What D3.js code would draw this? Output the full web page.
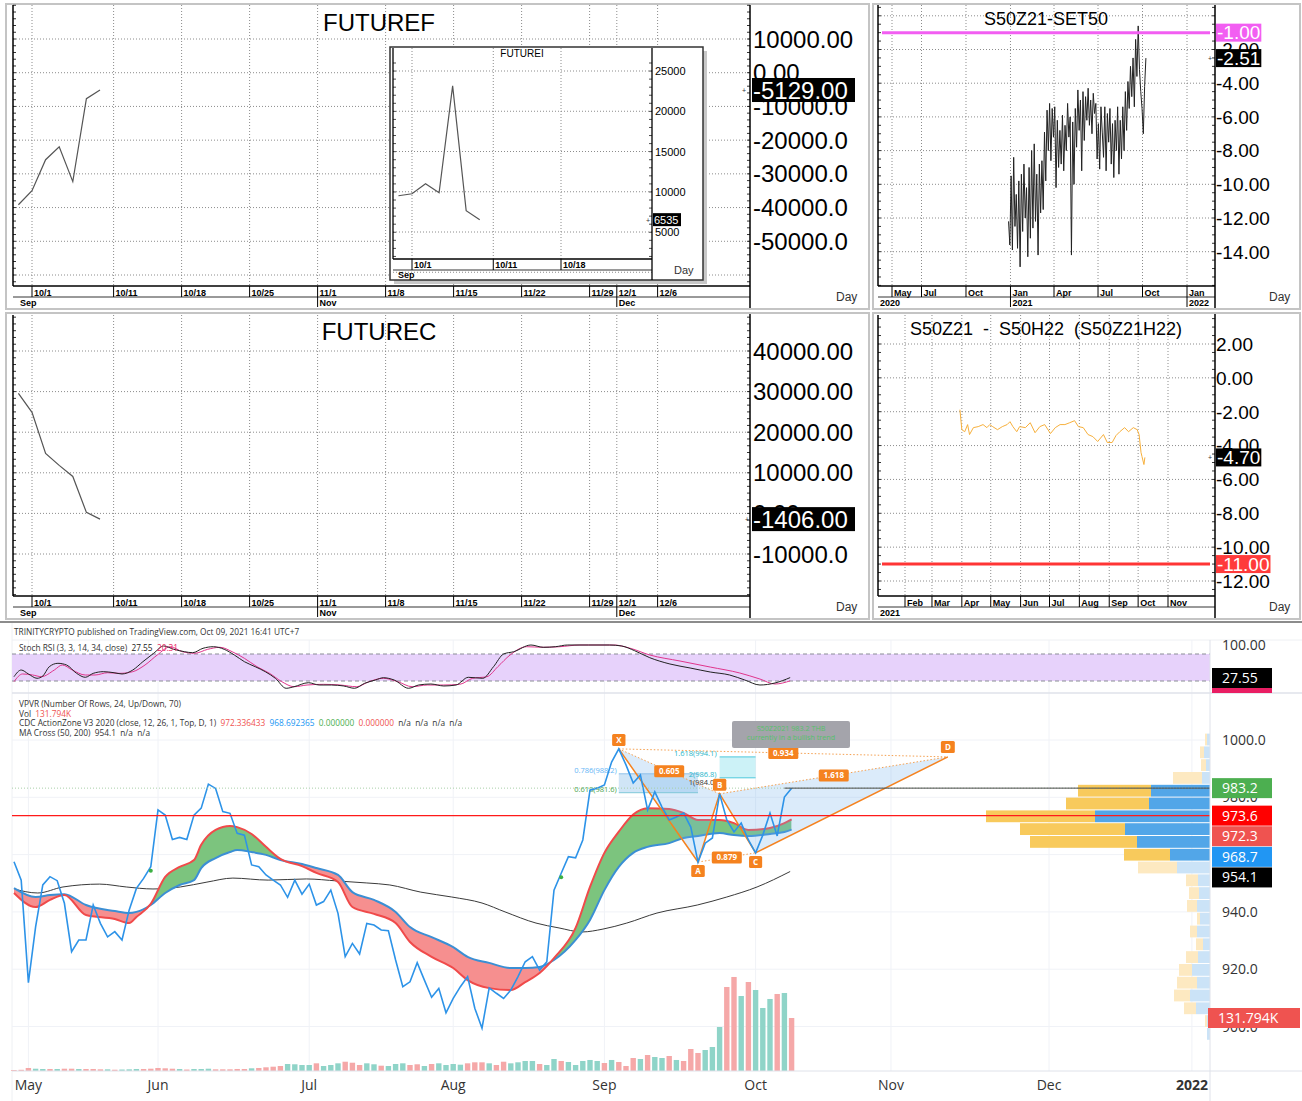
<!DOCTYPE html>
<html><head><meta charset="utf-8">
<script src="https://cdn.jsdelivr.net/npm/d3@7"></script>
<style>body{margin:0;background:#fff;}svg{display:block;}</style>
</head><body>
<svg id="chart" width="1302" height="1101" xmlns="http://www.w3.org/2000/svg"></svg>
<script>
// ================= DATA =================
// FUTUREF / FUTUREC / FUTUREI (trading-day index 0 = 9/30)
const futTickIdx = [1,7,12,17,22,27,32,37,42,44,47];
const futTickLabels = ["10/1","10/11","10/18","10/25","11/1","11/8","11/15","11/22","11/29","12/1","12/6"];
const futMonthIdx = [22,44];
const futMonthLabels = ["Nov","Dec"];
const futureF = [-39170,-35000,-25800,-22000,-32300,-7700,-5129];
const futureC = [29560,24880,14780,11820,9110,250,-1406];
const futureI = [9500,9750,11000,9880,23150,7640,6535];
const futFGrid = [10000,0,-10000,-20000,-30000,-40000,-50000,-60000];
const futFLabelVals = [10000,0,-10000,-20000,-30000,-40000,-50000];
const futFLabels = ["10000.00","0.00","-10000.0","-20000.0","-30000.0","-40000.0","-50000.0"];
const futCGrid = [40000,30000,20000,10000,0,-10000];
const futCLabels = ["40000.00","30000.00","20000.00","10000.00","0.00","-10000.0"];
const futIGrid = [25000,20000,15000,10000,5000];
const futITickIdx = [1,7,12];
const futITickLabels = ["10/1","10/11","10/18"];

// S50Z21-SET50 basis (daily swings, Dec 28 2020 .. Oct 8 2021)
const basisStart = "2020-12-28", basisEnd = "2021-10-08";
const basis = [-12.2,-13.6,-9.5,-13.9,-8.4,-12.5,-10.6,-13.8,-9.8,-14.9,-9.4,-12.8,-8.8,-12.0,
 -10.2,-14.3,-9.0,-13.2,-8.0,-12.6,-7.6,-12.2,-9.4,-14.2,-8.8,-11.7,
 -8.6,-11.5,-6.9,-9.8,-5.6,-8.0,-5.2,-8.6,-5.5,-7.2,-5.4,-10.2,-6.2,-9.0,
 -6.8,-8.8,-5.9,-9.2,-6.5,-8.0,-5.2,-7.2,-6.0,-14.2,-6.3,-10.0,
 -5.5,-7.8,-4.4,-6.8,-5.0,-9.2,-4.5,-7.4,-4.8,-6.2,-4.3,-6.5,-5.0,-7.0,-4.6,-5.8,-5.2,-8.5,-6.4,-9.1,-5.4,
 -6.9,-8.4,-5.4,-9.2,-5.8,-7.5,-5.5,-8.8,-6.4,-9.6,-6.2,-8.0,-5.4,-9.4,-6.2,-8.5,-5.4,-8.0,
 -4.5,-6.8,-3.9,-5.5,-3.0,-4.8,-2.5,-5.4,-1.4,-3.6,-0.6,-3.2,
 -4.5,-5.5,-7.0,-4.2,-2.51];
const basisGrid = [0,-2,-4,-6,-8,-10,-12,-14];
const basisLabels = ["-2.00","-4.00","-6.00","-8.00","-10.00","-12.00","-14.00"];
const basisLabelVals = [-2,-4,-6,-8,-10,-12,-14];
const basisMonths = ["2020-05-01","2020-07-01","2020-10-01","2021-01-01","2021-04-01","2021-07-01","2021-10-01","2022-01-01"];
const basisMonthLabels = ["May","Jul","Oct","Jan","Apr","Jul","Oct","Jan"];

// S50Z21 - S50H22 spread (day of 2021, value)
const spreadDay = [88,90,93,96,98,102,107,112,116,119,122,127,132,137,140,143,147,150,156,161,166,171,176,182,187,192,197,202,207,211,216,221,226,231,237,241,246,250,254,259,263,268,272,274,276,277,279,280];
const spreadVal = [-1.88,-3.06,-3.18,-2.76,-3.35,-2.94,-2.88,-2.76,-2.94,-2.76,-2.88,-3.06,-2.88,-2.76,-2.59,-2.88,-3.18,-2.88,-2.94,-2.65,-3.24,-2.88,-2.76,-3.29,-2.94,-2.76,-2.76,-2.65,-2.53,-2.88,-2.94,-3.35,-3.47,-3.76,-3.35,-3.82,-3.82,-3.41,-3.18,-2.94,-3.18,-2.94,-3.06,-3.35,-4.41,-4.65,-5.12,-4.70];
const spreadGrid = [2,0,-2,-4,-6,-8,-10,-12];
const spreadLabels = ["2.00","0.00","-2.00","-4.00","-6.00","-8.00","-10.00","-12.00"];
const spreadMonths = ["2021-02-01","2021-03-01","2021-04-01","2021-05-01","2021-06-01","2021-07-01","2021-08-01","2021-09-01","2021-10-01","2021-11-01"];
const spreadMonthLabels = ["Feb","Mar","Apr","May","Jun","Jul","Aug","Sep","Oct","Nov"];

// TradingView chart: daily closes (bar index 0 = Apr 29 2021)
const tvClose = [957.5,951.1,915.3,934.8,949.4,952.3,950.9,943.0,926.1,930.2,
 930.2,942.4,936.0,931.3,933.1,930.2,940.7,948.2,951.7,955.8,
 975.6,973.8,965.3,966.0,965.3,973.8,976.2,984.6,983.1,975.0,
 974.4,967.4,966.8,956.4,955.8,952.9,951.1,949.4,945.1,951.1,
 946.2,949.7,942.4,943.6,947.6,939.5,924.4,929.0,925.3,936.0,
 935.4,933.7,933.4,923.2,913.9,915.6,922.3,916.2,910.2,913.3,
 904.8,909.8,913.9,917.4,906.4,899.4,913.5,911.6,909.8,912.7,
 917.4,922.6,924.4,919.7,922.6,947.6,953.5,959.3,958.9,965.1,
 982.5,983.2,984.3,992.3,996.9,991.3,985.0,987.8,975.6,981.9,
 976.6,972.1,973.1,974.5,969.6,957.4,964.0,965.8,981.2,972.1,
 967.9,971.0,965.1,960.6,966.8,974.5,966.5,980.1,983.2];
const tvVolume = [2.5,3.0,7.5,5.7,5.0,5.0,5.0,5.7,5.7,5.0,
 5.0,5.0,4.2,4.2,3.2,3.7,4.2,5.0,5.0,5.7,
 7.5,6.7,5.7,5.0,3.7,5.0,5.0,5.7,4.2,4.2,
 4.2,5.0,5.0,6.7,7.5,9.2,10.7,12.4,17.4,16.7,
 14.9,14.9,19.1,12.4,14.9,19.1,23.1,20.6,14.9,19.1,
 16.7,13.2,12.4,17.4,19.1,14.9,16.7,12.4,17.4,19.1,
 14.9,17.4,15.7,19.1,21.6,21.6,19.1,14.9,23.1,19.1,
 21.6,24.9,24.9,17.4,14.9,29.8,24.9,22.4,14.9,24.9,
 27.4,24.9,19.9,27.4,22.4,12.4,32.3,29.8,39.8,34.8,
 32.3,37.3,27.4,24.9,54.7,44.8,52.2,59.7,109.4,208.9,
 233.8,186.5,221.3,201.4,156.7,179.1,191.5,194.0,131.794];
const tvVolDir = ("ddduududdu"+"ddduduuudd"+"ddduduuudd"+"dddudddduu"+"uuduuudddu"+
 "uduuuddudu"+"uuuddduddu"+"uuuduuduuu"+"uududddudu"+"ududdduuud"+"duduuudud").split("");
// CDC ActionZone EMAs (bar index, fast, slow)
const bandIdx = [0,3,5,7,10,14,16,17,19,21,23,25,26,28,30,31,33,35,37,40,42,45,47,50,53,55,58,61,63,66,69,71,73,75,78,80,82,84,86,88,91,93,95,98,100,102,105,107,108];
const emaFast = [946.6,941.7,944.2,945.9,938.9,937.5,936.1,938.2,942.8,952.2,955.7,958.1,963.4,968.6,970.0,969.6,967.2,962.7,958.5,956.0,953.6,950.4,941.7,939.3,936.1,929.5,924.3,920.4,916.2,913.4,912.7,915.5,918.7,923.9,934.4,948.7,960.6,968.0,974.0,976.2,975.9,974.5,972.1,972.1,971.0,968.6,969.3,971.0,972.3];
const emaSlow = [948.3,945.2,945.9,946.2,942.4,940.3,939.6,940.0,942.4,946.6,949.4,951.1,955.3,958.8,960.9,961.6,960.9,959.9,958.1,956.7,955.3,952.9,946.9,944.2,940.0,934.7,931.2,927.7,924.3,922.2,920.4,920.4,920.8,923.2,930.2,937.2,947.6,955.7,960.6,962.7,964.0,965.8,966.5,967.5,966.8,966.5,967.2,967.9,968.7];
// MA Cross line
const maIdx = [0,3.3,6.8,11.9,15.6,19.3,23.1,26.8,30.4,35.3,40.6,44.9,49,52.2,56.5,60.8,65,68.2,72.5,75.7,78.9,81.8,85.1,89.3,94.9,99,103.2,107.8];
const maVal = [948.0,946.6,948.7,949.7,948.7,948.0,948.7,950.4,951.8,951.1,951.5,950.8,950.1,949.4,946.9,945.2,943.1,940.0,936.1,934.4,933.0,934.0,936.1,939.6,942.4,945.2,948.7,954.1];
// Stoch RSI
const stochKIdx = [0,1,2,3.2,4,4.9,6.1,7.3,8.7,9.9,11,12.4,13.9,15,16.5,17.9,19.4,20.8,22.2,23.7,24.8,26.25,27.7,29.2,30.6,32,33.5,34.9,36.3,37.8,38.9,40.9,42.4,44.1,45.8,47.3,48.7,50.2,51.3,52.8,54.8,56.2,57.9,59.7,61.4,63.1,65.1,66.6,68,69.4,71.8,73.5,75.2,76.9,79.8,82.7,84.4,86.2,88.3,91.1,93.9,96.7,99.4,101.5,103.6,105.7,107.8];
const stochK = [29.6,44.4,35.6,26,31,51.8,59.3,55.6,37,28.2,37,40.7,38.4,35.6,44.4,62.9,81.6,97.8,90.4,85.1,82.9,92.7,96.2,90.4,77.8,62.9,51.8,40.7,26,3.8,7.3,16.2,11.1,11.1,8.9,3.8,14.9,22.2,27.3,22.2,3.8,11.1,13.3,8.9,11.1,28.2,26,51.8,80,85.1,100,94.9,96.2,100,100,100,97.8,87.3,71.8,57.8,48.9,40,33.3,22.2,11.1,15.6,27.55];
const stochDIdx = [0,1.2,2.6,3.8,5.6,6.7,8.1,9.9,11.25,13,14.7,16.5,18.2,19.9,21.7,23.4,25.1,26.9,28.6,30.3,32,33.75,35.5,37.2,38.9,40.7,43,45.3,47.6,49.3,51.3,53.3,55.3,57.4,59.7,61.9,63.7,65.7,67.2,68.9,71.2,73.5,75.8,78.6,83.3,85.6,88.3,92.5,96.7,100.8,103.6,105.7,107.8];
const stochD = [18.5,35.6,33.3,29.6,44.4,55.6,44.4,33.3,33.3,38.4,37,40.7,55.6,77.8,96.2,85.1,81.6,90.4,94.9,85.1,70.4,51.8,37,18.5,7.3,11.1,12.6,11.1,7.3,18.5,26,18.5,7.3,11.1,11.1,12.6,26,29.6,51.8,77.8,96.2,94.9,96.2,100,100,92.7,77.8,64.4,51,37.8,24.4,13.3,20.31];
// VPVR rows (top row first), up/down volume
const vpTop = 1002.4, vpStep = 4.467;
const vpUp =   [3,6,4,8,59,61,115,85,73,40,33,12,11,13,10,13,7,12,18,13,20,14,3,3];
const vpDown = [2,4,5,29,73,83,109,105,107,46,39,12,10,10,3,7,7,12,13,20,16,12,2,0];
const vpValueArea = [4,9];
// Harmonic pattern
const harmLabels = ["X","A","B","C","D"];
const harmIdx = [84,95,98,103,129.7];
const harmPrice = [996.9,957.4,981.2,960.6,994.1];
const harmRatios = ["0.605","0.879","1.618","0.934"];
// axis
const tvGridPrices = [1000,980,960,940,920,900];
const tvPriceLabels = ["1000.0","980.0","960.0","940.0","920.0","900.0"];
const tvMonthIdx = [2,20,41,61,82,103,121.8,143.75,163.6];
const tvMonthLabels = ["May","Jun","Jul","Aug","Sep","Oct","Nov","Dec","2022"];
const tvValueBoxes = [983.2,973.6,972.3,968.7,954.1];
const tvValueBoxColors = ["#4caf50","#ff0000","#ef5350","#2196f3","#000000"];
const signalIdx = [19,76];

// ================= DRAWING =================
const svg = d3.select("#chart");
const SF = "'Liberation Sans', Arial, Helvetica, sans-serif";
const TVF = "'Open Sans', 'Noto Sans', sans-serif";
const INF = 8.3;

function line(g,x1,y1,x2,y2,stroke,w,dash){
  const l=g.append("line").attr("x1",x1).attr("y1",y1).attr("x2",x2).attr("y2",y2)
   .attr("stroke",stroke).attr("stroke-width",w||1);
  if(dash) l.attr("stroke-dasharray",dash);
  return l;
}
function text(g,x,y,s,fs,o){
  o=o||{};
  const t=g.append("text").attr("x",x).attr("y",y).attr("font-family",o.ff||SF)
   .attr("font-size",fs).attr("fill",o.fill||"#000").text(s);
  if(o.anchor) t.attr("text-anchor",o.anchor);
  if(o.fw) t.attr("font-weight",o.fw);
  if(o.pre) t.style("white-space","pre");
  return t;
}
function valueBox(g,x,yc,w,h,bg,s,fs,ff,pad){
  pad = pad||1;
  const r=g.append("rect").attr("x",x).attr("y",yc-h/2).attr("height",h).attr("fill",bg);
  const t=text(g,x+pad,yc+fs*0.36,s,fs,{fill:"#fff",ff:ff});
  const tw=t.node().getComputedTextLength();
  r.attr("width",Math.max(w,tw+pad*2));
}

function drawWin(c){
  const g=svg.append("g");
  g.append("rect").attr("x",c.fx).attr("y",c.fy).attr("width",c.fw).attr("height",c.fh)
   .attr("fill","#fff").attr("stroke","#c4c4c4").attr("stroke-width",2);
  c.grid.forEach(v=>{ if(c.y(v)>c.py0 && c.y(v)<c.py1) line(g,c.px0,c.y(v),c.px1,c.y(v),"#8c8c8c",1,"1,2"); });
  c.xt.forEach(x=>line(g,x,c.py0,x,c.py1,"#8c8c8c",1,"1,2"));
  line(g,c.px0,c.py0,c.px0,c.py1,"#000",1.5);
  line(g,c.px1,c.fy+1,c.px1,c.fy+c.fh-1,"#000",1.5);
  line(g,c.px0,c.py1,c.px1,c.py1,"#000",1.5);
  line(g,c.px0,c.py1+11,c.px1,c.py1+11,"#000",0.8);
  const major=Math.abs(c.y(c.grid[0])-c.y(c.grid[1])), step=major/c.minor;
  for(let yy=c.y(c.grid[0]); yy<c.py1; yy+=step){ line(g,c.px0,yy,c.px0+3,yy,"#000",0.8); line(g,c.px1-3,yy,c.px1,yy,"#000",0.8);}
  for(let yy=c.y(c.grid[0])-step; yy>c.py0; yy-=step){ line(g,c.px0,yy,c.px0+3,yy,"#000",0.8); line(g,c.px1-3,yy,c.px1,yy,"#000",0.8);}
  c.xt.forEach((x,k)=>{ line(g,x,c.py1,x,c.py1+11,"#000",1); text(g,x+2,c.py1+9.5,c.xl[k],c.dfs||9,{fw:"bold"}); });
  c.mt.forEach(m=>{ if(m.tick) line(g,m.x,c.py1+11,m.x,c.py1+21,"#000",1); text(g,m.x+2,c.py1+20,m.l,c.dfs||9,{fw:"bold"}); });
  c.lv.forEach((v,k)=>text(g,c.lx,c.y(v)+c.lfs*0.36,c.ll[k],c.lfs));
  text(g,c.tx,c.ty,c.title,c.tfs,{anchor:"middle",pre:true});
  if(c.path) g.append("path").attr("d",c.path).attr("fill","none").attr("stroke",c.stroke||"#444").attr("stroke-width",c.sw||1.2);
  text(g,c.dayX,c.dayY,"Day",12,{fill:"#333"});
  return g;
}

// ---------- TOP LEFT: FUTUREF ----------
const futX = d3.scaleLinear().domain([1,47]).range([32,657.6]);
const fY = d3.scaleLinear().domain([10000,-60000]).range([39,275]);
const gF = drawWin({fx:6,fy:4,fw:863,fh:305,px0:13,px1:750,py0:5,py1:286,y:fY,grid:futFGrid,minor:5,
  xt:futTickIdx.map(i=>futX(i)),xl:futTickLabels,
  mt:[{x:18,l:"Sep",tick:false}].concat(futMonthIdx.map((i,k)=>({x:futX(i),l:futMonthLabels[k],tick:true}))),
  lv:futFLabelVals,ll:futFLabels,lx:753,lfs:24,
  title:"FUTUREF",tx:379,ty:31,tfs:24,
  path:d3.line().x((d,i)=>futX(i)).y(d=>fY(d))(futureF),stroke:"#555",sw:1.2,
  dayX:836,dayY:301});
valueBox(gF,752,fY(futureF[futureF.length-1]),103,24,"#000","-5129.00",24,SF,1);
text(gF,742,fY(-5129)+3,"+",7,{fill:"#333"});

// inset FUTUREI
const gI = svg.append("g");
gI.append("rect").attr("x",394).attr("y",51).attr("width",313).attr("height",233).attr("fill","#c8c8c8");
gI.append("rect").attr("x",390).attr("y",47).attr("width",313).attr("height",233).attr("fill","#fff").attr("stroke","#333").attr("stroke-width",1.5);
const iX = d3.scaleLinear().domain([1,12]).range([412,561]);
const iY = d3.scaleLinear().domain([25000,5000]).range([71,232]);
futIGrid.forEach(v=>line(gI,393,iY(v),652,iY(v),"#8c8c8c",1,"1,2"));
line(gI,393,iY(0),652,iY(0),"#8c8c8c",1,"1,2");
futITickIdx.forEach(i=>line(gI,iX(i),48,iX(i),259,"#8c8c8c",1,"1,2"));
line(gI,393,48,393,259,"#000",1.3);
line(gI,652,48,652,280,"#000",1.3);
line(gI,393,259,652,259,"#000",1.3);
line(gI,393,270,652,270,"#000",0.8);
for(let yy=iY(25000)-8; yy<259; yy+=8.06){ line(gI,393,yy,396,yy,"#000",0.7); line(gI,649,yy,652,yy,"#000",0.7);}
futITickIdx.forEach((i,k)=>{ line(gI,iX(i),259,iX(i),270,"#000",1); text(gI,iX(i)+2,268,futITickLabels[k],9,{fw:"bold"}); });
text(gI,398,278,"Sep",9,{fw:"bold"});
futIGrid.forEach(v=>text(gI,655,iY(v)+4,String(v),11));
text(gI,522,57,"FUTUREI",10,{anchor:"middle"});
text(gI,674,274,"Day",11,{fill:"#333"});
gI.append("path").attr("d",d3.line().x((d,i)=>iX(i)).y(d=>iY(d))(futureI)).attr("fill","none").attr("stroke","#555").attr("stroke-width",1.2);
valueBox(gI,653,iY(6535),28,13,"#000","6535",11,SF,1);
text(gI,646,iY(6535)+3,"+",7,{fill:"#333"});

// ---------- MID LEFT: FUTUREC ----------
const cY = d3.scaleLinear().domain([40000,-10000]).range([351,554]);
const gC = drawWin({fx:6,fy:313,fw:863,fh:306,px0:13,px1:750,py0:315,py1:596,y:cY,grid:futCGrid,minor:6,
  xt:futTickIdx.map(i=>futX(i)),xl:futTickLabels,
  mt:[{x:18,l:"Sep",tick:false}].concat(futMonthIdx.map((i,k)=>({x:futX(i),l:futMonthLabels[k],tick:true}))),
  lv:futCGrid,ll:futCLabels,lx:753,lfs:24,
  title:"FUTUREC",tx:379,ty:340,tfs:24,
  path:d3.line().x((d,i)=>futX(i)).y(d=>cY(d))(futureC),stroke:"#555",sw:1.2,
  dayX:836,dayY:611});
valueBox(gC,752,cY(-1406),103,24,"#000","-1406.00",24,SF,1);
text(gC,745,cY(-1406)+3,"+",7,{fill:"#333"});

// ---------- TOP RIGHT: S50Z21-SET50 ----------
const parse = d3.timeParse("%Y-%m-%d");
const trX = d3.scaleTime().domain([new Date(2020,4,1),new Date(2022,0,1)]).range([892,1187]);
const trY = d3.scaleLinear().domain([0,-16]).range([15.8,285.4]);
const bIdx = d3.scaleLinear().domain([0,basis.length-1]).range([parse(basisStart),parse(basisEnd)]);
const gT = drawWin({fx:873,fy:4,fw:427,fh:305,px0:878,px1:1215,py0:5,py1:286,y:trY,grid:basisGrid,minor:4,
  xt:basisMonths.map(d=>trX(parse(d))),xl:basisMonthLabels,dfs:9,
  mt:[{x:878,l:"2020",tick:false},{x:trX(parse("2021-01-01")),l:"2021",tick:true},{x:trX(parse("2022-01-01")),l:"2022",tick:true}],
  lv:basisLabelVals,ll:basisLabels,lx:1216,lfs:19,
  title:"S50Z21-SET50",tx:1046,ty:25,tfs:18,
  path:d3.line().x((d,i)=>trX(bIdx(i))).y(d=>trY(d))(basis),stroke:"#222",sw:1,
  dayX:1269,dayY:301});
line(gT,882,trY(-1),1210,trY(-1),"#f25ef2",3);
valueBox(gT,1216,trY(-1),44,18,"#f25ef2","-1.00",19,SF,1);
valueBox(gT,1216,trY(-2.51),44,18,"#000","-2.51",19,SF,1);
text(gT,1208,trY(-2.51)+3,"+",7,{fill:"#333"});

// ---------- MID RIGHT: spread ----------
const mrX = d3.scaleTime().domain([new Date(2021,1,1),new Date(2021,10,1)]).range([905,1168]);
const mrY = d3.scaleLinear().domain([2,-12]).range([344,581]);
const gS = drawWin({fx:873,fy:313,fw:427,fh:306,px0:878,px1:1215,py0:315,py1:596,y:mrY,grid:spreadGrid,minor:4,
  xt:spreadMonths.map(d=>mrX(parse(d))),xl:spreadMonthLabels,dfs:9,
  mt:[{x:878,l:"2021",tick:false}],
  lv:spreadGrid,ll:spreadLabels,lx:1216,lfs:19,
  title:"S50Z21  -  S50H22  (S50Z21H22)",tx:1046,ty:335,tfs:18,
  path:d3.line().x((d,i)=>mrX(d3.timeDay.offset(new Date(2021,0,1),spreadDay[i]))).y(d=>mrY(d))(spreadVal),stroke:"#f7b03c",sw:1,
  dayX:1269,dayY:611});
line(gS,882,mrY(-11),1210,mrY(-11),"#ff3535",3);
valueBox(gS,1216,mrY(-11),44,18,"#ff3b3b","-11.00",19,SF,1);
valueBox(gS,1216,mrY(-4.7),44,18,"#000","-4.70",19,SF,1);
text(gS,1208,mrY(-4.7)+3,"+",7,{fill:"#333"});

// ---------- BOTTOM: TradingView ----------
const tv = svg.append("g");
const tvX = d3.scaleLinear().domain([0,108]).range([14,791.6]);
const tvY = d3.scaleLinear().domain([1000,900]).range([740,1026.5]);
const volY = d3.scaleLinear().domain([0,131.794]).range([1071,1018]);
const stY = d3.scaleLinear().domain([0,100]).range([690,645]);
const vpW = d3.scaleLinear().domain([0,100]).range([0,100]);

tv.append("rect").attr("x",0).attr("y",622).attr("width",1302).attr("height",479).attr("fill","#fff");
line(tv,0,622,1302,622,"#8c8c8c",2);
line(tv,12,640,1302,640,"#eef0f3",1);
line(tv,12,623,12,1101,"#eef0f3",1);
tvGridPrices.forEach(p=>line(tv,12,tvY(p),1210,tvY(p),"#f0f2f7",1));
tvMonthIdx.forEach(i=>line(tv,tvX(i),640,tvX(i),1071,"#f0f2f7",1));

text(tv,14,635,"TRINITYCRYPTO published on TradingView.com, Oct 09, 2021 16:41 UTC+7",INF,{ff:TVF,fill:"#333"});

// Stoch RSI pane
tv.append("rect").attr("x",12).attr("y",stY(80)).attr("width",1198).attr("height",stY(20)-stY(80)).attr("fill","#e7d2fb");
line(tv,12,stY(80),1210,stY(80),"#8a8d96",1,"4,3");
line(tv,12,stY(20),1210,stY(20),"#8a8d96",1,"4,3");
const stLineD = d3.line().curve(d3.curveMonotoneX).x((d,i)=>tvX(stochDIdx[i])).y(d=>stY(d));
const stLineK = d3.line().curve(d3.curveMonotoneX).x((d,i)=>tvX(stochKIdx[i])).y(d=>stY(d));
tv.append("path").attr("d",stLineD(stochD)).attr("fill","none").attr("stroke","#e0358c").attr("stroke-width",1);
tv.append("path").attr("d",stLineK(stochK)).attr("fill","none").attr("stroke","#222").attr("stroke-width",1);
const stT = text(tv,19,651,"Stoch RSI (3, 3, 14, 34, close)  ",INF,{ff:TVF,fill:"#333",pre:true});
stT.append("tspan").text("27.55  ").attr("fill","#222");
stT.append("tspan").text("20.31").attr("fill","#e91e63");
line(tv,12,693,1302,693,"#dfe2ea",1.5);

text(tv,19,707,"VPVR (Number Of Rows, 24, Up/Down, 70)",INF,{ff:TVF,fill:"#333"});
const vt = text(tv,19,716.5,"Vol  ",INF,{ff:TVF,fill:"#333",pre:true}); vt.append("tspan").text("131.794K").attr("fill","#ef5350");
const ct = text(tv,19,726,"CDC ActionZone V3 2020 (close, 12, 26, 1, Top, D, 1)  ",INF,{ff:TVF,fill:"#333",pre:true});
ct.append("tspan").text("972.336433  ").attr("fill","#ef5350");
ct.append("tspan").text("968.692365  ").attr("fill","#2196f3");
ct.append("tspan").text("0.000000  ").attr("fill","#4caf50");
ct.append("tspan").text("0.000000  ").attr("fill","#ef5350");
ct.append("tspan").text("n/a  n/a  n/a  n/a").attr("fill","#333");
text(tv,19,735.5,"MA Cross (50, 200)  954.1  n/a  n/a",INF,{ff:TVF,fill:"#333",pre:true});

// VPVR
vpUp.forEach((u,k)=>{
  const y0=tvY(vpTop-k*vpStep), y1=tvY(vpTop-(k+1)*vpStep);
  const va = k>=vpValueArea[0] && k<=vpValueArea[1];
  const wu=vpW(u), wd=vpW(vpDown[k]);
  tv.append("rect").attr("x",1210-wu).attr("y",y0+0.5).attr("width",wu).attr("height",y1-y0-1).attr("fill",va?"#52a6e8":"#cbe3f7");
  tv.append("rect").attr("x",1210-wu-wd).attr("y",y0+0.5).attr("width",wd).attr("height",y1-y0-1).attr("fill",va?"#f8ca5c":"#fde9c1");
});

// volume bars
tv.selectAll("rect.vol").data(tvVolume).enter().append("rect").attr("class","vol")
  .attr("x",(d,i)=>tvX(i)-2.7).attr("width",5.4)
  .attr("y",d=>volY(d)).attr("height",d=>1071-volY(d))
  .attr("fill",(d,i)=>tvVolDir[i]==="u"?"#8fd4c8":"#f5a8a8");

// MA line
tv.append("path").attr("d",d3.line().curve(d3.curveMonotoneX).x((d,i)=>tvX(maIdx[i])).y(d=>tvY(d))(maVal))
  .attr("fill","none").attr("stroke","#3a3a3a").attr("stroke-width",1);

// CDC band
const band = bandIdx.map((i,k)=>({i:i,f:emaFast[k],s:emaSlow[k]}));
const defs = svg.append("defs");
defs.append("clipPath").attr("id","belowFast").append("path")
  .attr("d",d3.area().curve(d3.curveMonotoneX).x(d=>tvX(d.i)).y0(1100).y1(d=>tvY(d.f))(band));
defs.append("clipPath").attr("id","aboveFast").append("path")
  .attr("d",d3.area().curve(d3.curveMonotoneX).x(d=>tvX(d.i)).y0(600).y1(d=>tvY(d.f))(band));
tv.append("path").attr("d",d3.area().curve(d3.curveMonotoneX).x(d=>tvX(d.i)).y0(600).y1(d=>tvY(d.s))(band))
  .attr("fill","#7cc47e").attr("clip-path","url(#belowFast)");
tv.append("path").attr("d",d3.area().curve(d3.curveMonotoneX).x(d=>tvX(d.i)).y0(1100).y1(d=>tvY(d.s))(band))
  .attr("fill","#f68f8f").attr("clip-path","url(#aboveFast)");
tv.append("path").attr("d",d3.line().curve(d3.curveMonotoneX).x(d=>tvX(d.i)).y(d=>tvY(d.s))(band))
  .attr("fill","none").attr("stroke","#3b8fd4").attr("stroke-width",2);
tv.append("path").attr("d",d3.line().curve(d3.curveMonotoneX).x(d=>tvX(d.i)).y(d=>tvY(d.f))(band))
  .attr("fill","none").attr("stroke","#f04a4a").attr("stroke-width",2);

// harmonic pattern
const H = harmIdx.map((i,k)=>({x:tvX(i),y:tvY(harmPrice[k])}));
const poly = pts=>"M"+pts.map(p=>p.x+","+p.y).join("L")+"Z";
tv.append("path").attr("d",poly([H[0],H[1],H[2]])).attr("fill","rgba(110,175,235,0.25)");
tv.append("path").attr("d",poly([H[2],H[3],H[4]])).attr("fill","rgba(110,175,235,0.25)");
tv.append("rect").attr("x",H[0].x).attr("y",tvY(988.2)).attr("width",H[1].x-H[0].x).attr("height",tvY(981.6)-tvY(988.2)).attr("fill","rgba(120,180,230,0.35)");
line(tv,H[0].x,tvY(981.6),H[1].x,tvY(981.6),"#7fc7d9",1);
line(tv,H[0].x,tvY(988.2),H[1].x,tvY(988.2),"#8fc0ea",1);
tv.append("rect").attr("x",H[2].x).attr("y",tvY(994.1)).attr("width",H[3].x-H[2].x).attr("height",tvY(986.8)-tvY(994.1)).attr("fill","rgba(128,222,234,0.4)");
line(tv,H[2].x,tvY(994.1),H[3].x,tvY(994.1),"#4dc8dc",1);
line(tv,H[2].x,tvY(986.8),H[3].x,tvY(986.8),"#4dc8dc",1);
text(tv,H[0].x-2,tvY(988.2)-1,"0.786(988.2)",7.5,{ff:TVF,fill:"#64b5f6",anchor:"end"});
text(tv,H[0].x-2,tvY(981.6)-1,"0.618(981.6)",7.5,{ff:TVF,fill:"#43a047",anchor:"end"});
text(tv,H[2].x-3,tvY(994.1)-1,"1.618(994.1)",7.5,{ff:TVF,fill:"#26b6ca",anchor:"end"});
text(tv,H[2].x-3,tvY(986.8)-1,"2(986.8)",7.5,{ff:TVF,fill:"#26b6ca",anchor:"end"});
text(tv,H[2].x-3,tvY(984.0)-1,"1(984.0)",7.5,{ff:TVF,fill:"#333",anchor:"end"});
[[0,2],[1,3],[2,4],[0,4]].forEach(p=>line(tv,H[p[0]].x,H[p[0]].y,H[p[1]].x,H[p[1]].y,"#f5a050",1,"1.5,2"));
tv.append("path").attr("d","M"+H.map(p=>p.x+","+p.y).join("L")).attr("fill","none").attr("stroke","#f5821f").attr("stroke-width",1.5);

// price line
tv.append("path").attr("d",d3.line().x((d,i)=>tvX(i)).y(d=>tvY(d))(tvClose))
  .attr("fill","none").attr("stroke","#2d93e8").attr("stroke-width",1.6);
signalIdx.forEach(i=>tv.append("circle").attr("cx",tvX(i)).attr("cy",tvY(tvClose[i])+4).attr("r",2).attr("fill","#3cb043"));

line(tv,12,tvY(983.2),1210,tvY(983.2),"#a8cfa8",1,"1,2");
line(tv,tvX(107),tvY(983.2),1210,tvY(983.2),"#4a4a4a",1);
line(tv,12,tvY(973.6),1210,tvY(973.6),"#ff1a1a",1.2);

function oBox(cx,cy,s,minW){
  const t=text(tv,cx,cy+3,s,8,{ff:TVF,fill:"#fff",anchor:"middle",fw:"bold"});
  const w=Math.max(minW,t.node().getComputedTextLength()+8);
  tv.insert("rect",()=>t.node()).attr("x",cx-w/2).attr("y",cy-6).attr("width",w).attr("height",12).attr("rx",1.5).attr("fill","#f5821f");
}
const offs=[-9,9,-9,9,-10];
H.forEach((p,k)=>oBox(p.x,p.y+offs[k],harmLabels[k],11));
const mid=(a,b)=>({x:(H[a].x+H[b].x)/2,y:(H[a].y+H[b].y)/2});
[[0,2],[1,3],[2,4],[0,4]].forEach((p,k)=>{ const m=mid(p[0],p[1]); oBox(m.x,m.y,harmRatios[k],30); });

tv.append("rect").attr("x",732).attr("y",721).attr("width",118).attr("height",27).attr("rx",2).attr("fill","#a4a4ab");
text(tv,791,731,"S50Z2021 983.2 THB",7.2,{ff:TVF,fill:"#55c16a",anchor:"middle"});
text(tv,791,739.5,"currently in a bullish trend",7.2,{ff:TVF,fill:"#55c16a",anchor:"middle"});

// axes
line(tv,1210,640,1210,1101,"#dfe2ea",1);
line(tv,12,1071,1302,1071,"#dfe2ea",1);
text(tv,1222,650,"100.00",14,{ff:TVF,fill:"#333"});
tvGridPrices.forEach((p,k)=>text(tv,1222,tvY(p)+5,tvPriceLabels[k],14,{ff:TVF,fill:"#333"}));
valueBox(tv,1212,678,60,20,"#000","27.55",14,TVF,10);
tv.append("rect").attr("x",1212).attr("y",688).attr("width",60).attr("height",5).attr("fill","#e91e63");
let prevY=-1e9;
tvValueBoxes.forEach((v,k)=>{
  const yc=Math.max(tvY(v),prevY+20.6); prevY=yc;
  valueBox(tv,1212,yc,60,20,tvValueBoxColors[k],v.toFixed(1),14,TVF,10);
});
valueBox(tv,1208,volY(131.794),92,20,"#ef5350","131.794K",14,TVF,10);
defs.append("clipPath").attr("id","xclip").append("rect").attr("x",0).attr("y",1071).attr("width",1210).attr("height",30);
const xl = tv.append("g").attr("clip-path","url(#xclip)");
tvMonthIdx.forEach((i,k)=>text(xl,tvX(i),1090,tvMonthLabels[k],14,{ff:TVF,fill:"#333",anchor:"middle",fw:tvMonthLabels[k]==="2022"?"bold":null}));
</script>
</body></html>
